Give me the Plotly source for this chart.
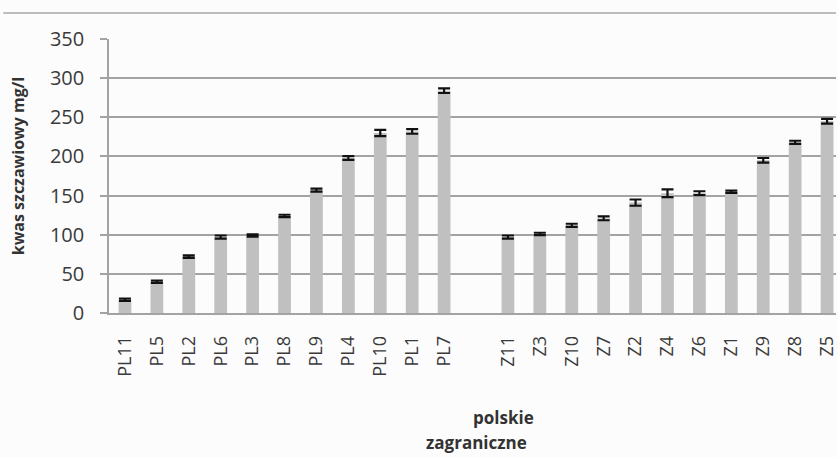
import plotly.graph_objects as go

pl_labels = ["PL11", "PL5", "PL2", "PL6", "PL3", "PL8", "PL9", "PL4", "PL10", "PL1", "PL7"]
pl_values = [17, 40, 72, 97, 99, 124, 157, 198, 230, 232, 284]
pl_errors = [1.5, 1.5, 1.5, 2, 1.5, 1.5, 2, 2.5, 4, 3, 3]

z_labels = ["Z11", "Z3", "Z10", "Z7", "Z2", "Z4", "Z6", "Z1", "Z9", "Z8", "Z5"]
z_values = [97, 101, 112, 121, 141, 153, 153, 155, 195, 218, 245]
z_errors = [2, 1.5, 2, 2.5, 4, 5, 2.5, 1.5, 3, 2, 3]

y_ticks = [0, 50, 100, 150, 200, 250, 300, 350]
y_title = "kwas szczawiowy mg/l"
group_names = ["polskie", "zagraniczne"]

categories = pl_labels + [" "] + z_labels
values = pl_values + [None] + z_values
errors = pl_errors + [0] + z_errors

FONT = "Open Sans"
GRID = "#a3a3a3"
TXT = "#3a3a3a"

fig = go.Figure()
fig.add_trace(go.Bar(
    x=list(range(len(categories))),
    y=values,
    marker=dict(color="#c0c0c0", line=dict(width=0)),
    error_y=dict(type="data", array=errors, visible=True, color="#111111", thickness=2.2, width=6),
    width=0.4,
    showlegend=False,
))

fig.update_layout(
    width=838, height=457,
    margin=dict(l=109, r=0, t=39, b=144),
    paper_bgcolor="#fcfcfc",
    plot_bgcolor="#fcfcfc",
    font=dict(family=FONT, color=TXT),
    xaxis=dict(
        range=[-0.5, 22.28],
        tickmode="array",
        tickvals=list(range(len(categories))),
        ticktext=categories,
        tickangle=-90,
        tickfont=dict(size=18, color=TXT),
        showgrid=False,
        showline=True, linecolor=GRID, linewidth=1.5,
        ticks="", ticklabelstandoff=14,
        ticklabeloverflow="allow",
        fixedrange=True,
    ),
    yaxis=dict(
        range=[0, 350],
        tickmode="array",
        tickvals=y_ticks,
        tickfont=dict(size=20, color=TXT),
        showgrid=True, gridcolor=GRID, gridwidth=1.5,
        showline=True, linecolor=GRID, linewidth=1.5,
        zeroline=False,
        ticks="outside", ticklen=7, tickcolor=GRID, tickwidth=1.5,
        ticklabelstandoff=12,
    ),
    shapes=[dict(type="line", xref="paper", yref="paper",
                 x0=-0.1454, x1=1.0, y0=1.0949, y1=1.0949,
                 line=dict(color="#bdbdbd", width=2))],
    annotations=[
        dict(text="<b>" + y_title + "</b>", xref="paper", yref="paper",
             x=-0.1248, y=0.5365, textangle=-90, showarrow=False,
             font=dict(size=16, color="#333333", family=FONT),
             xanchor="center", yanchor="middle"),
        dict(text="<b>" + group_names[0] + "</b>", xref="paper", yref="paper",
             x=0.542, y=-0.38, showarrow=False,
             font=dict(size=17, color="#333333", family=FONT),
             xanchor="center", yanchor="middle"),
        dict(text="<b>" + group_names[1] + "</b>", xref="paper", yref="paper",
             x=0.505, y=-0.474, showarrow=False,
             font=dict(size=17, color="#333333", family=FONT),
             xanchor="center", yanchor="middle"),
    ],
)

fig.write_html("out.html", config={"displayModeBar": False},
               post_script="document.body.style.margin='0';document.body.style.overflow='hidden';")
